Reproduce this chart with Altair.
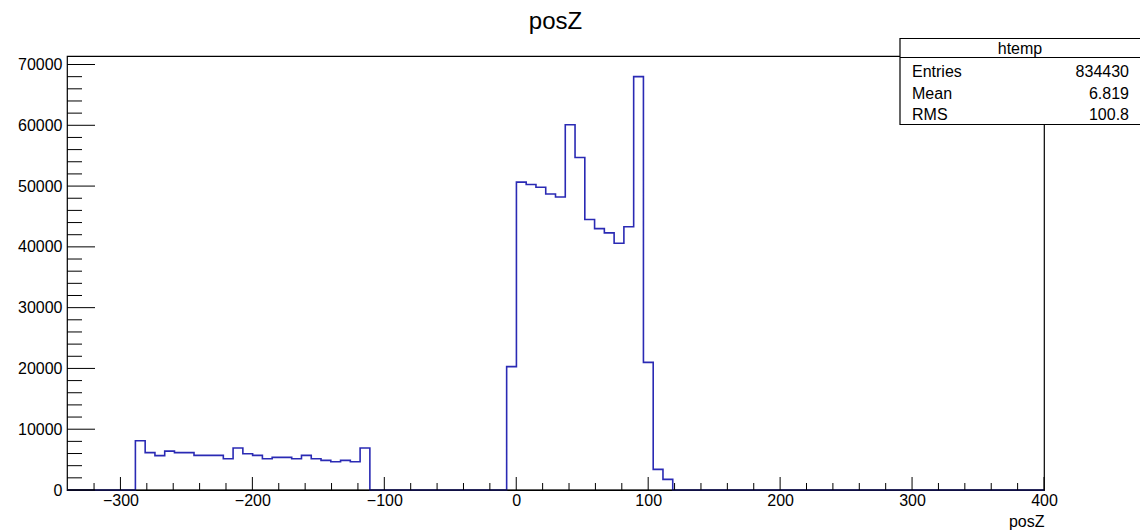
import altair as alt
import pandas as pd

# ---- data ----
x_min = -340.5
x_max = 400.0
n_bins = 100
left_start_bin = 7
left_counts = [8100, 6150, 5650, 6400, 6150, 6150, 5700, 5700, 5700, 5150, 6900, 5970,
               5700, 5150, 5370, 5370, 5150, 5700, 5150, 4870, 4660, 4870, 4660, 6900]
central_start_bin = 45
central_counts = [20300, 50650, 50250, 49800, 48700, 48200, 60100, 54700, 44500,
                  43000, 42300, 40600, 43300, 68000, 21000, 3400, 1750]
x_major_ticks = [-300, -200, -100, 0, 100, 200, 300, 400]
x_minor_ticks = [v for v in range(-320, 400, 20) if v % 100 != 0]
y_major_ticks = [0, 10000, 20000, 30000, 40000, 50000, 60000, 70000]
y_minor_ticks = [v for v in range(2000, 71400, 2000) if v % 10000 != 0]
stats_names = ["Entries", "Mean", "RMS"]
stats_values = ["834430", "6.819", "100.8"]
hist_name = "htemp"
title_text = "posZ"
x_title = "posZ"

# ---- build the histogram outline table ----
bw = (x_max - x_min) / n_bins
counts = [0] * n_bins
for i, c in enumerate(left_counts):
    counts[left_start_bin + i] = c
for i, c in enumerate(central_counts):
    counts[central_start_bin + i] = c
edges = [x_min + k * bw for k in range(n_bins)] + [x_max]
hist = pd.DataFrame({"x": edges, "y": counts + [counts[-1]]})

W, H = 977, 434
FONT = "Liberation Sans"
BLUE = "#2a2ab4"

xs = alt.Scale(domain=[x_min, x_max], nice=False, zero=False)
ys = alt.Scale(domain=[0, 71400], nice=False)

line = alt.Chart(hist).mark_line(interpolate="step-after", color=BLUE, strokeWidth=1.6).encode(
    x=alt.X("x:Q", scale=xs,
            axis=alt.Axis(values=x_major_ticks, ticks=False, domain=False, grid=False,
                          labelFont=FONT, labelFontSize=16, labelPadding=2, labelColor="black",
                          labelFlush=False, format="d",
                          title=x_title, titleFont=FONT, titleFontSize=16, titleFontWeight="normal",
                          titleAnchor="end", titleAlign="right", titlePadding=5, titleColor="black")),
    y=alt.Y("y:Q", scale=ys,
            axis=alt.Axis(values=y_major_ticks, ticks=False, domain=False, grid=False,
                          labelFont=FONT, labelFontSize=16, labelPadding=5, labelColor="black",
                          format="d", title=None)),
)

bottom_line = alt.Chart(pd.DataFrame({"y": [0]})).mark_rule(color="black", strokeWidth=1.2).encode(
    y=alt.Y("y:Q", scale=ys), x=alt.value(0), x2=alt.value(W))

xmaj = alt.Chart(pd.DataFrame({"t": x_major_ticks})).mark_rule(color="black").encode(
    x=alt.X("t:Q", scale=xs), y=alt.value(H), y2=alt.value(H - 13))
xmin_ = alt.Chart(pd.DataFrame({"t": x_minor_ticks})).mark_rule(color="black").encode(
    x=alt.X("t:Q", scale=xs), y=alt.value(H), y2=alt.value(H - 7))
ymaj = alt.Chart(pd.DataFrame({"t": y_major_ticks})).mark_rule(color="black").encode(
    y=alt.Y("t:Q", scale=ys), x=alt.value(0), x2=alt.value(28))
ymin_ = alt.Chart(pd.DataFrame({"t": y_minor_ticks})).mark_rule(color="black").encode(
    y=alt.Y("t:Q", scale=ys), x=alt.value(0), x2=alt.value(15))

# ---- title ----
title = alt.Chart(pd.DataFrame({"t": [title_text]})).mark_text(
    font=FONT, fontSize=24, align="center", baseline="middle", color="black").encode(
    text="t:N", x=alt.value(W / 2), y=alt.value(-34))

# ---- stats box ----
box = alt.Chart(pd.DataFrame({"a": [0]})).mark_rect(fill="white", stroke="black", strokeWidth=1.2).encode(
    x=alt.value(833), x2=alt.value(1090), y=alt.value(-17.5), y2=alt.value(68.5))
sep = alt.Chart(pd.DataFrame({"a": [0]})).mark_rule(color="black", strokeWidth=1.2).encode(
    x=alt.value(833), x2=alt.value(1090), y=alt.value(1.5))
head = alt.Chart(pd.DataFrame({"t": [hist_name]})).mark_text(
    font=FONT, fontSize=16, align="center", baseline="middle", color="black").encode(
    text="t:N", x=alt.value(953), y=alt.value(-7.5))
row_y = [15.5, 37.5, 59]
stat_layers = []
for name, val, ry in zip(stats_names, stats_values, row_y):
    d = pd.DataFrame({"name": [name], "val": [val]})
    stat_layers.append(alt.Chart(d).mark_text(font=FONT, fontSize=16, align="left", baseline="middle",
                                              color="black").encode(
        text="name:N", x=alt.value(845), y=alt.value(ry)))
    stat_layers.append(alt.Chart(d).mark_text(font=FONT, fontSize=16, align="right", baseline="middle",
                                              color="black").encode(
        text="val:N", x=alt.value(1062), y=alt.value(ry)))

chart = alt.layer(line, bottom_line, xmaj, xmin_, ymaj, ymin_, title, box, sep, head, *stat_layers).properties(
    width=W, height=H,
    background="white",
    autosize=alt.AutoSizeParams(type="none"),
    padding={"left": 67, "top": 56, "right": 96, "bottom": 41},
).configure_view(stroke="black", strokeWidth=1.2)

chart.save("out.html", embed_options={"renderer": "svg", "actions": False})
